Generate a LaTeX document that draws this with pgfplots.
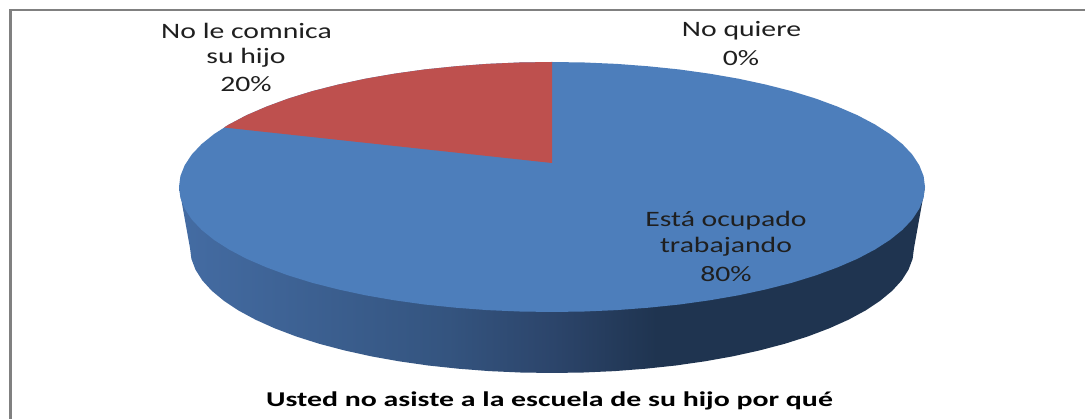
\documentclass[border=0pt]{standalone}
\usepackage{fontspec}
\setmainfont{Carlito}
\usepackage{pgfplots}
\pgfplotsset{compat=1.18}
\definecolor{pieblue}{HTML}{4D7EBB}
\definecolor{piered}{HTML}{BE504E}
\definecolor{sa}{HTML}{446CA3}
\definecolor{sb}{HTML}{34547F}
\definecolor{sc}{HTML}{2C456B}
\definecolor{sd}{HTML}{1F3450}
\pgfdeclarehorizontalshading{sideshade}{100bp}{color(0bp)=(sa); color(25bp)=(sa); color(43bp)=(sb); color(50bp)=(sc); color(57bp)=(sd); color(75bp)=(sd); color(100bp)=(sd)}
\tikzset{lbl/.style={font=\fontsize{22}{22}\selectfont,text=black!88,xscale=1.35,transform shape,inner sep=0pt,anchor=center}}
\begin{document}
\begin{tikzpicture}
\begin{axis}[hide axis,scale only axis,width=1085pt,height=419pt,xmin=0,xmax=1085,ymin=0,ymax=419,y dir=reverse,clip=true]
\addplot[fill=white,draw=none] coordinates {(0,0)(1085,0)(1085,419)(0,419)} -- cycle;
% frame
\addplot[draw=black!50,line width=3.5pt] coordinates {(10.5,419)(10.5,10)};
\addplot[draw=black!50,line width=2pt] coordinates {(9,10)(1085,10)};
% side wall
\addplot[shading=sideshade,draw=none] coordinates {(179,187)(190,248)(191.4,258.9)(195.5,269.7)(202.3,280.4)(211.8,290.8)(223.9,300.8)(238.5,310.5)(255.5,319.7)(274.7,328.3)(296,336.4)(319.3,343.8)(344.4,350.4)(371,356.3)(399,361.3)(428.2,365.5)(458.3,368.7)(489.1,371.1)(520.4,372.5)(552,373)(583.6,372.5)(614.9,371.1)(645.7,368.7)(675.8,365.5)(705,361.3)(733,356.3)(759.6,350.4)(784.7,343.8)(808,336.4)(829.3,328.3)(848.5,319.7)(865.5,310.5)(880.1,300.8)(892.2,290.8)(901.7,280.4)(908.5,269.7)(912.6,258.9)(914,248)(925,187)} -- cycle;
% top: Está ocupado trabajando, 80%
\addplot[fill=pieblue,draw=none] coordinates {(925,187)(923.6,197.9)(919.3,208.7)(912.3,219.4)(902.5,229.8)(890.1,239.8)(875,249.5)(857.6,258.7)(837.7,267.3)(815.8,275.4)(791.8,282.8)(765.9,289.4)(738.5,295.3)(709.6,300.3)(679.6,304.5)(648.5,307.7)(616.8,310.1)(584.5,311.5)(552,312)(519.5,311.5)(487.2,310.1)(455.5,307.7)(424.4,304.5)(394.4,300.3)(365.5,295.3)(338.1,289.4)(312.2,282.8)(288.2,275.4)(266.3,267.3)(246.4,258.7)(229,249.5)(213.9,239.8)(201.5,229.8)(191.7,219.4)(184.7,208.7)(180.4,197.9)(179,187)(180.4,176.1)(184.7,165.3)(191.7,154.6)(201.5,144.2)(213.9,134.2)(229,124.5)(246.4,115.3)(266.3,106.7)(288.2,98.6)(312.2,91.2)(338.1,84.6)(365.5,78.7)(394.4,73.7)(424.4,69.5)(455.5,66.3)(487.2,63.9)(519.5,62.5)(552,62)(584.5,62.5)(616.8,63.9)(648.5,66.3)(679.6,69.5)(709.6,73.7)(738.5,78.7)(765.9,84.6)(791.8,91.2)(815.8,98.6)(837.7,106.7)(857.6,115.3)(875,124.5)(890.1,134.2)(902.5,144.2)(912.3,154.6)(919.3,165.3)(923.6,176.1)} -- cycle;
% top: No le comnica su hijo, 20%
\addplot[fill=piered,draw=none] coordinates {(552,163)(224,127.5)(229,124.5)(246.4,115.3)(266.3,106.7)(288.2,98.6)(312.2,91.2)(338.1,84.6)(365.5,78.7)(394.4,73.7)(424.4,69.5)(455.5,66.3)(487.2,63.9)(519.5,62.5)(552,62)} -- cycle;
\node[lbl] at (axis cs:246.5,31) {No le comnica};
\node[lbl] at (axis cs:246,58) {su hijo};
\node[lbl] at (axis cs:246,84) {20\%};
\node[lbl] at (axis cs:741.5,31) {No quiere};
\node[lbl] at (axis cs:741,58) {0\%};
\node[lbl] at (axis cs:726,221) {Está ocupado};
\node[lbl] at (axis cs:726,247) {trabajando};
\node[lbl] at (axis cs:726,274) {80\%};
\node[lbl,xscale=1.052,font=\fontsize{21}{21}\selectfont\bfseries,text=black] at (axis cs:549.5,401) {Usted no asiste a la escuela de su hijo por qué};
\end{axis}
\end{tikzpicture}
\end{document}
